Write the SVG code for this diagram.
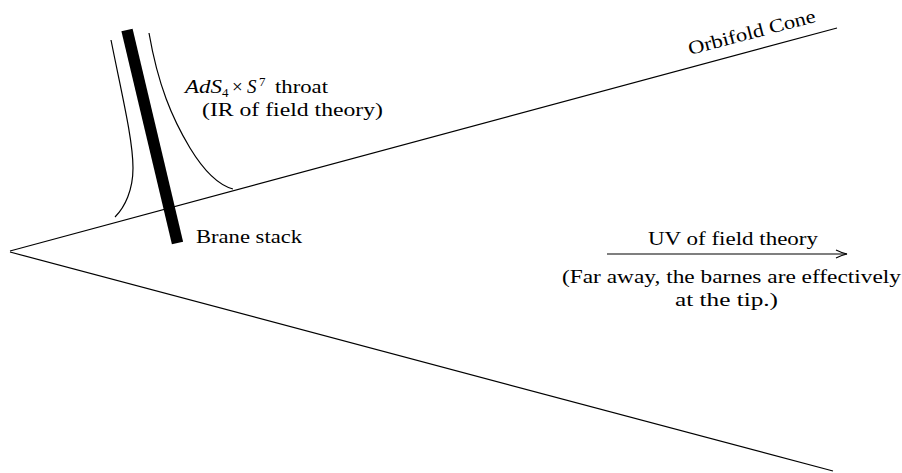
<svg xmlns="http://www.w3.org/2000/svg" width="902" height="473" viewBox="0 0 902 473">
<defs>
<style>
text{font-family:"Liberation Serif","DejaVu Serif",serif;font-size:19px;fill:#000}
.ln{fill:none;stroke:#000;stroke-width:1.2}
.it{font-style:italic}
.sm{font-size:13px}
</style>
<marker id="ah" markerWidth="14" markerHeight="10" refX="12" refY="5" orient="auto" markerUnits="userSpaceOnUse">
<path d="M1,1 Q7,4 12,5 Q7,6 1,9" fill="none" stroke="#000" stroke-width="1.1"/>
</marker>
</defs>
<rect width="902" height="473" fill="#fff"/>
<g id="connectors">
<line id="cone-upper" class="ln" x1="10" y1="251" x2="837" y2="28"/>
<line id="cone-lower" class="ln" x1="10" y1="252" x2="833" y2="471"/>
<path id="throat-left" class="ln" d="M111,40 C122,95 133,140 133,168 C133,190 125,207 115,217"/>
<path id="throat-right" class="ln" d="M149,33 C158,85 172,118 190,148 C204,171 218,185 233,189"/>
<line id="uv-arrow" class="ln" x1="607" y1="254" x2="847" y2="254" marker-end="url(#ah)"/>
</g>
<g id="brane-stack">
<line x1="127" y1="30" x2="177.5" y2="243" stroke="#000" stroke-width="11.5"/>
<text x="196" y="243" textLength="106" lengthAdjust="spacingAndGlyphs">Brane stack</text>
</g>
<g id="throat-label">
<text class="it" x="185" y="93" font-size="20" textLength="37" lengthAdjust="spacingAndGlyphs">AdS</text>
<text class="sm" x="222" y="97">4</text>
<text x="232" y="93" font-size="22">×</text>
<text class="it" x="247" y="93" font-size="20">S</text>
<text class="sm" x="259" y="86">7</text>
<text x="275" y="93" textLength="53" lengthAdjust="spacingAndGlyphs">throat</text>
<text x="202" y="116" textLength="181" lengthAdjust="spacingAndGlyphs">(IR of field theory)</text>
</g>
<g id="orbifold-label">
<text transform="translate(690,55) rotate(-14.7)" textLength="131" lengthAdjust="spacingAndGlyphs">Orbifold Cone</text>
</g>
<g id="uv-label">
<text x="648" y="245" textLength="170" lengthAdjust="spacingAndGlyphs">UV of field theory</text>
<text x="562" y="283" textLength="339" lengthAdjust="spacingAndGlyphs">(Far away, the barnes are effectively</text>
<text x="675" y="306" textLength="103" lengthAdjust="spacingAndGlyphs">at the tip.)</text>
</g>
</svg>
